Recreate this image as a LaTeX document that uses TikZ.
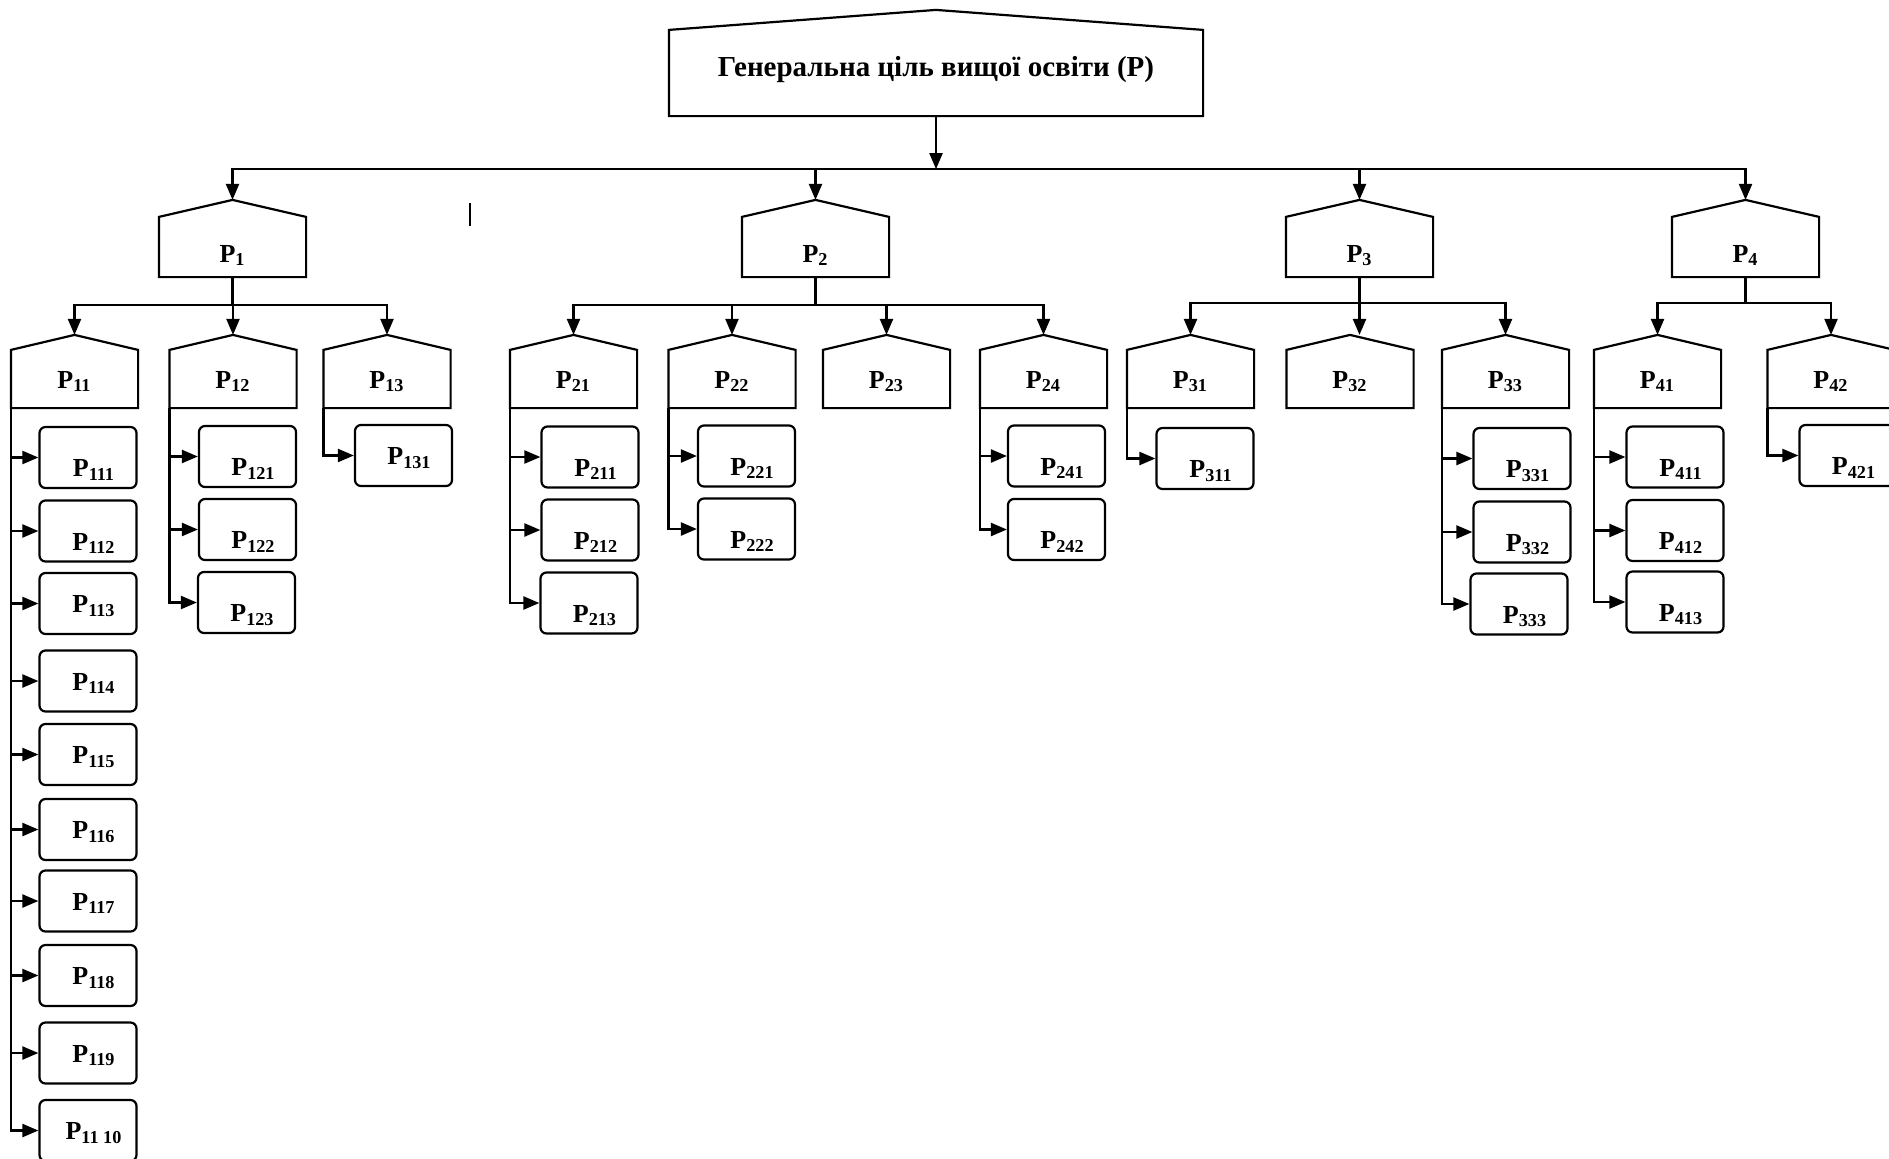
\documentclass[tikz,border=0pt]{standalone}
\usepackage{fontspec}
\setmainfont{Liberation Serif}
\usetikzlibrary{positioning, arrows.meta}
\tikzset{>={Triangle[length=8pt,width=6.5pt]}}

\begin{document}
\begin{tikzpicture}
    [x=0.5pt, y=-0.5pt, line width=1.1pt,
     every node/.style={draw, inner sep=0pt, font=\bfseries\fontsize{13}{15}\selectfont},
     mainbox/.style={draw=none, minimum width=266pt, minimum height=42pt, text height=10pt, text depth=7pt, font=\bfseries\fontsize{14.5}{16}\selectfont},
     subbox/.style={draw=none, minimum width=72.5pt, minimum height=29pt, text height=17pt, text depth=2pt},
     subsubbox/.style={draw=none, minimum width=62.5pt, minimum height=28pt, text height=11pt, text depth=2pt},
     leafbox/.style={rounded corners=3pt, minimum width=48.5pt, minimum height=30.5pt, text height=11pt, text depth=2pt, execute at begin node={\hspace*{6pt}}},
     lowleaf/.style={leafbox, text height=21pt}]
    \useasboundingbox (0,0) rectangle (1889,1158);

    \node[mainbox] (P) at (936,73) {Генеральна ціль вищої освіти (Р)};

    \node[subbox] (P1) at (232.5,247) {P\textsubscript{1}};
    \node[subbox] (P2) at (815.5,247) {P\textsubscript{2}};
    \node[subbox] (P3) at (1359.5,247) {P\textsubscript{3}};
    \node[subbox] (P4) at (1745.5,247) {P\textsubscript{4}};

    \node[subsubbox] (P11) at (74.5,379) {P\textsubscript{11}};
    \node[subsubbox] (P12) at (233,379) {P\textsubscript{12}};
    \node[subsubbox] (P13) at (387,379) {P\textsubscript{13}};
    \node[subsubbox] (P21) at (573.5,379) {P\textsubscript{21}};
    \node[subsubbox] (P22) at (732,379) {P\textsubscript{22}};
    \node[subsubbox] (P23) at (886.5,379) {P\textsubscript{23}};
    \node[subsubbox] (P24) at (1043.5,379) {P\textsubscript{24}};
    \node[subsubbox] (P31) at (1190.5,379) {P\textsubscript{31}};
    \node[subsubbox] (P32) at (1350,379) {P\textsubscript{32}};
    \node[subsubbox] (P33) at (1505.5,379) {P\textsubscript{33}};
    \node[subsubbox] (P41) at (1657.5,379) {P\textsubscript{41}};
    \node[subsubbox] (P42) at (1831,379) {P\textsubscript{42}};

    % house outlines
    \draw (P.south west) -- (P.north west) -- ([yshift=10pt]P.north) coordinate (P-top) -- (P.north east) -- (P.south east) -- cycle;
    \foreach \n in {P1,P2,P3,P4}
      \draw (\n.south west) -- (\n.north west) -- ([yshift=8.5pt]\n.north) coordinate (\n-top) -- (\n.north east) -- (\n.south east) -- cycle;
    \foreach \n in {P11,P12,P13,P21,P22,P23,P24,P31,P32,P33,P41,P42}
      \draw (\n.south west) -- (\n.north west) -- ([yshift=7.5pt]\n.north) coordinate (\n-top) -- (\n.north east) -- (\n.south east) -- cycle;

    \node[lowleaf] (P111) at (88,457.5) {P\textsubscript{111}};
    \node[lowleaf] (P112) at (88,531) {P\textsubscript{112}};
    \node[leafbox] (P113) at (88,603.5) {P\textsubscript{113}};
    \node[leafbox] (P114) at (88,681) {P\textsubscript{114}};
    \node[leafbox] (P115) at (88,754.5) {P\textsubscript{115}};
    \node[leafbox] (P116) at (88,829.5) {P\textsubscript{116}};
    \node[leafbox] (P117) at (88,901) {P\textsubscript{117}};
    \node[leafbox] (P118) at (88,975.5) {P\textsubscript{118}};
    \node[leafbox] (P119) at (88,1053) {P\textsubscript{119}};
    \node[leafbox] (P1110) at (88,1130.5) {P\textsubscript{11 10}};

    \node[lowleaf] (P121) at (247.5,456.5) {P\textsubscript{121}};
    \node[lowleaf] (P122) at (247.5,529.5) {P\textsubscript{122}};
    \node[lowleaf] (P123) at (246.5,602.5) {P\textsubscript{123}};
    \node[leafbox] (P131) at (403.5,455.5) {P\textsubscript{131}};

    \node[lowleaf] (P211) at (590,457) {P\textsubscript{211}};
    \node[lowleaf] (P212) at (590,530) {P\textsubscript{212}};
    \node[lowleaf] (P213) at (589,603) {P\textsubscript{213}};
    \node[lowleaf] (P221) at (746.5,456) {P\textsubscript{221}};
    \node[lowleaf] (P222) at (746.5,529) {P\textsubscript{222}};
    \node[lowleaf] (P241) at (1056.5,456) {P\textsubscript{241}};
    \node[lowleaf] (P242) at (1056.5,529.5) {P\textsubscript{242}};

    \node[lowleaf] (P311) at (1205,458.5) {P\textsubscript{311}};
    \node[lowleaf] (P331) at (1522,458.5) {P\textsubscript{331}};
    \node[lowleaf] (P332) at (1522,532) {P\textsubscript{332}};
    \node[lowleaf] (P333) at (1519,604) {P\textsubscript{333}};

    \node[lowleaf] (P411) at (1675,457) {P\textsubscript{411}};
    \node[lowleaf] (P412) at (1675,530.5) {P\textsubscript{412}};
    \node[lowleaf] (P413) at (1675,602) {P\textsubscript{413}};
    \node[lowleaf] (P421) at (1848,455.5) {P\textsubscript{421}};

    \coordinate[below=26.5pt of P] (x0);
    \draw[->] (P) -- (x0);
    \draw[->] (x0) -| (P1-top);
    \draw[->] (x0) -| (P2-top);
    \draw[->] (x0) -| (P3-top);
    \draw[->] (x0) -| (P4-top);

    \coordinate[below=14pt of P1] (x1);
    \draw (P1) -- (x1);
    \draw[->] (x1) -| (P11-top);
    \draw[->] (x1) -| (P12-top);
    \draw[->] (x1) -| (P13-top);

    \coordinate[below=14pt of P2] (x2);
    \draw (P2) -- (x2);
    \draw[->] (x2) -| (P21-top);
    \draw[->] (x2) -| (P22-top);
    \draw[->] (x2) -| (P23-top);
    \draw[->] (x2) -| (P24-top);

    \coordinate[below=13pt of P3] (x3);
    \draw (P3) -- (x3);
    \draw[->] (x3) -| (P31-top);
    \draw[->] (x3) -- (x3 |- P32-top);
    \draw[->] (x3) -| (P33-top);

    \coordinate[below=13pt of P4] (x4);
    \draw (P4) -- (x4);
    \draw[->] (x4) -| (P41-top);
    \draw[->] (x4) -| (P42-top);

    % leaves
    \foreach \i in {1,...,9}
      \draw[->] (P11.south west |- P11\i) -- (P11\i);
    \draw[->] (P11.south west) |- (P1110);

    \draw[->] (P12.south west |- P121) -- (P121);
    \draw[->] (P12.south west |- P122) -- (P122);
    \draw[->] (P12.south west) |- (P123);
    \draw[->] (P13.south west) |- (P131);

    \draw[->] (P21.south west |- P211) -- (P211);
    \draw[->] (P21.south west |- P212) -- (P212);
    \draw[->] (P21.south west) |- (P213);
    \draw[->] (P22.south west |- P221) -- (P221);
    \draw[->] (P22.south west) |- (P222);
    \draw[->] (P24.south west |- P241) -- (P241);
    \draw[->] (P24.south west) |- (P242);

    \draw[->] (P31.south west) |- (P311);
    \draw[->] (P33.south west |- P331) -- (P331);
    \draw[->] (P33.south west |- P332) -- (P332);
    \draw[->] (P33.south west) |- (P333);

    \draw[->] (P41.south west |- P411) -- (P411);
    \draw[->] (P41.south west |- P412) -- (P412);
    \draw[->] (P41.south west) |- (P413);
    \draw[->] (P42.south west) |- (P421);

    \draw (470,203) -- (470,226);
  \end{tikzpicture}
\end{document}
